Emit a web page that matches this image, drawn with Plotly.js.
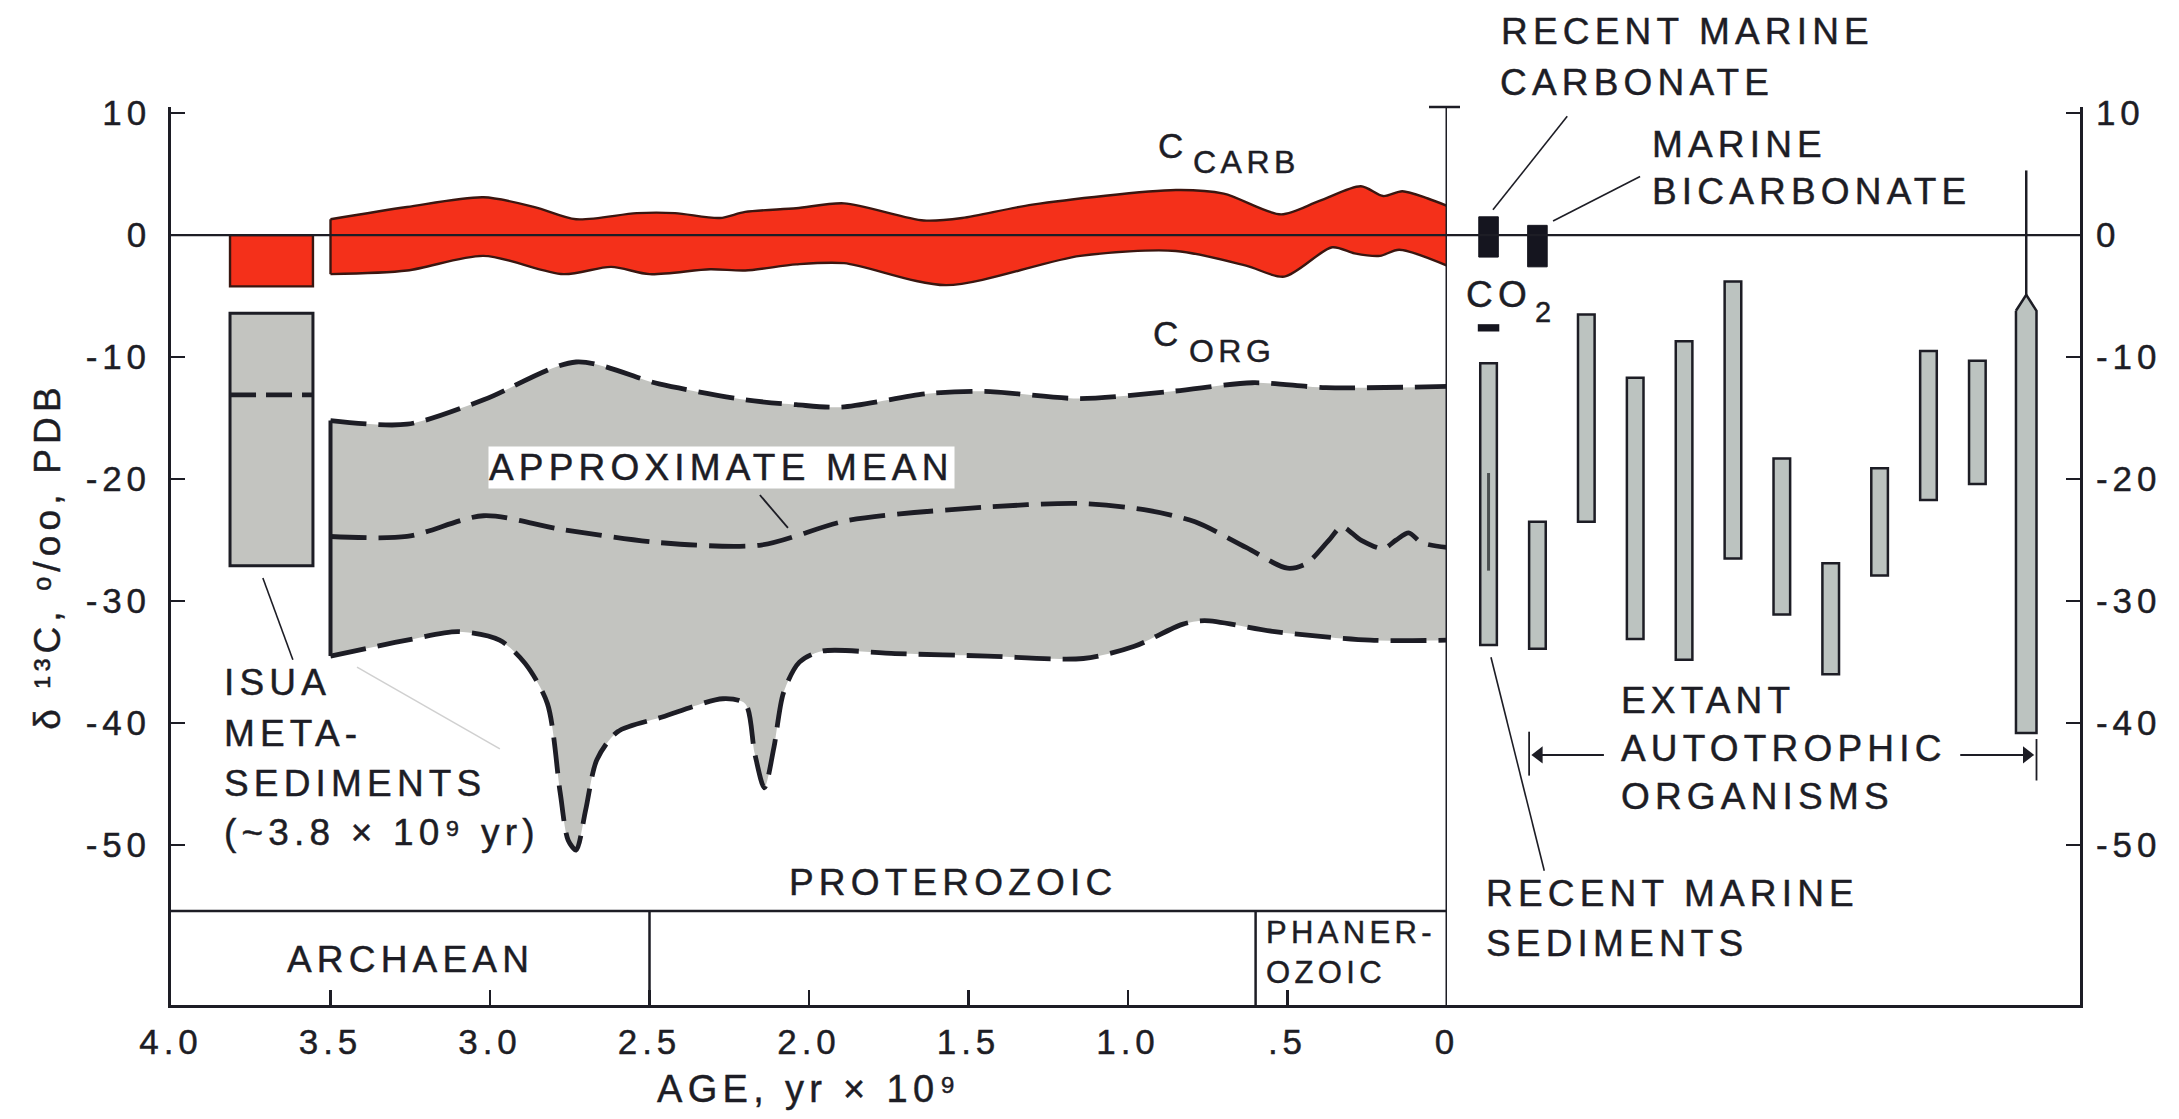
<!DOCTYPE html>
<html>
<head>
<meta charset="utf-8">
<script src="https://cdn.plot.ly/plotly-3.0.1.min.js"></script>
<style>
html,body{margin:0;padding:0;background:#ffffff;}
#chart{width:2179px;height:1119px;}
svg text{letter-spacing:0.14em;stroke:#1d1d25;stroke-width:0.45px;}
</style>
</head>
<body>
<div id="chart"></div>
<script>
// ---------------- DATA ----------------
// Age axis (10^9 yr) and delta13C axis (per mil, PDB)
const ageTicks = [4.0, 3.5, 3.0, 2.5, 2.0, 1.5, 1.0, 0.5, 0];
const ageTickText = ['4.0', '3.5', '3.0', '2.5', '2.0', '1.5', '1.0', '.5', '0'];
const deltaTicks = [10, 0, -10, -20, -30, -40, -50];
const deltaTickText = ['10', '0', '-10', '-20', '-30', '-40', '-50'];

// Carbonate carbon envelope (C_CARB)
const carbTopAge = [3.5, 3.26, 3.02, 2.86, 2.73, 2.54, 2.42, 2.28, 2.2, 2.04, 1.89, 1.64, 1.52, 1.30, 0.85, 0.70, 0.52, 0.40, 0.27, 0.20, 0.14, 0.06, 0.0];
const carbTop    = [1.3, 2.3, 3.1, 2.3, 1.3, 1.8, 1.8, 1.4, 1.9, 2.2, 2.6, 1.2, 1.4, 2.5, 3.7, 3.4, 1.7, 2.8, 4.0, 3.2, 3.6, 3.0, 2.4];
const carbBotAge = [3.5, 3.26, 3.02, 2.77, 2.62, 2.50, 2.31, 2.2, 2.04, 1.89, 1.57, 1.15, 0.85, 0.63, 0.51, 0.36, 0.29, 0.21, 0.15, 0.0];
const carbBot    = [-3.2, -2.9, -1.7, -3.2, -2.6, -3.2, -2.8, -2.9, -2.4, -2.3, -4.1, -1.7, -1.3, -2.5, -3.4, -1.0, -1.5, -1.7, -1.2, -2.5];

// Organic carbon envelope (C_ORG): upper limit, approximate mean, lower limit
const orgTopAge = [3.5, 3.26, 3.02, 2.73, 2.47, 2.2, 2.04, 1.9, 1.63, 1.45, 1.15, 0.86, 0.61, 0.38, 0.0];
const orgTop    = [-15.2, -15.5, -13.5, -10.4, -12.2, -13.5, -13.9, -14.1, -13.0, -12.8, -13.4, -12.8, -12.1, -12.5, -12.4];
const orgMeanAge = [3.5, 3.26, 3.02, 2.78, 2.47, 2.15, 1.88, 1.45, 1.15, 0.95, 0.79, 0.63, 0.5, 0.44, 0.37, 0.33, 0.27, 0.2, 0.16, 0.12, 0.08, 0.0];
const orgMean    = [-24.7, -24.7, -23.0, -24.1, -25.2, -25.4, -23.4, -22.3, -22.0, -22.5, -23.5, -25.6, -27.3, -26.9, -25.0, -23.9, -25.0, -25.7, -25.0, -24.4, -25.2, -25.6];
const orgBotAge = [3.5, 3.26, 3.10, 2.97, 2.89, 2.82, 2.78, 2.755, 2.73, 2.70, 2.665, 2.60, 2.46, 2.27, 2.20, 2.17, 2.14, 2.11, 2.08, 2.03, 1.96, 1.73, 1.44, 1.14, 0.98, 0.83, 0.76, 0.54, 0.24, 0.0];
const orgBot    = [-34.5, -33.2, -32.5, -33.2, -35.1, -38.4, -45.7, -49.6, -50.4, -47.1, -43.0, -40.7, -39.5, -38.0, -38.4, -42.5, -45.3, -42.0, -37.5, -35.0, -34.1, -34.3, -34.5, -34.7, -33.7, -31.9, -31.6, -32.5, -33.2, -33.2];

// Isua metasediments (~3.8 x 10^9 yr)
const isuaAge = [3.815, 3.555];
const isuaCarb = [0, -4.2];
const isuaOrg = [-6.4, -27.1];
const isuaOrgMean = -13.1;

// Geological eras
const eraNames = ['ARCHAEAN', 'PROTEROZOIC', 'PHANER-<br>OZOIC'];
const eraStart = [4.0, 2.5, 0.6];
const eraEnd = [2.5, 0.6, 0.0];

// Recent samples (right panel); slot = column number
const recentNames = ['Recent marine carbonate', 'Marine bicarbonate'];
const recentSlot = [1, 2];
const recentHigh = [1.5, 0.8];
const recentLow = [-1.8, -2.6];
const co2Slot = [1];
const co2High = [-7.3];
const co2Low = [-7.9];
const sedimentSlot = [1];
const sedimentHigh = [-10.5];
const sedimentLow = [-33.6];
const sedimentCoreHigh = [-19.5];
const sedimentCoreLow = [-27.5];
const autoSlot = [2, 3, 4, 5, 6, 7, 8, 9, 10, 11];
const autoHigh = [-23.5, -6.5, -11.7, -8.7, -3.8, -18.3, -26.9, -19.1, -9.5, -10.3];
const autoLow  = [-33.9, -23.5, -33.1, -34.8, -26.5, -31.1, -36.0, -27.9, -21.7, -20.4];
const wideSlot = 12;
const wideMax = 5.3;
const wideTip = -4.9;
const wideShoulder = -6.2;
const wideLow = -40.8;

// ---------------- STYLE / LAYOUT ----------------
const FONT = '"Liberation Sans", Arial, Helvetica, "DejaVu Sans", sans-serif';
const INK = '#1d1d25';
const RED = '#f4301a';
const RED_EDGE = '#3a1610';
const GRAY = '#c3c4c0';
const BAR_GRAY = '#bcc3c0';

const W = 2179, H = 1119, ML = 171, MR = 99, MT = 107, MB = 114;
const PW = W - ML - MR, PH = H - MT - MB;
const SPLIT = (1447 - ML) / PW;
const px = x => (x - ML) / PW;
const py = y => (H - MB - y) / PH;

const dashLine = {color: INK, width: 4.8, dash: '36px,12px', shape: 'spline', smoothing: 0.8};
const redLine = {color: RED_EDGE, width: 2.4, shape: 'spline', smoothing: 0.8};
const BW = 0.34, BW_BLACK = 0.40;

const traces = [];
// organic carbon band
traces.push({type: 'scatter', x: orgBotAge, y: orgBot, mode: 'lines', line: dashLine, hoverinfo: 'skip'});
traces.push({type: 'scatter', x: orgTopAge, y: orgTop, mode: 'lines', line: dashLine, fill: 'tonexty', fillcolor: GRAY, hoverinfo: 'skip'});
traces.push({type: 'scatter', x: orgMeanAge, y: orgMean, mode: 'lines', line: dashLine, hoverinfo: 'skip'});
traces.push({type: 'scatter', x: [orgTopAge[0], orgBotAge[0]], y: [orgTop[0], orgBot[0]], mode: 'lines', line: {color: INK, width: 4}, hoverinfo: 'skip'});
// carbonate band
traces.push({type: 'scatter', x: carbBotAge, y: carbBot, mode: 'lines', line: redLine, hoverinfo: 'skip'});
traces.push({type: 'scatter', x: carbTopAge, y: carbTop, mode: 'lines', line: redLine, fill: 'tonexty', fillcolor: RED, hoverinfo: 'skip'});
traces.push({type: 'scatter', x: [carbTopAge[0], carbBotAge[0]], y: [carbTop[0], carbBot[0]], mode: 'lines', line: {color: RED_EDGE, width: 2.4}, hoverinfo: 'skip'});
// Isua boxes
const isuaMid = (isuaAge[0] + isuaAge[1]) / 2, isuaW = isuaAge[0] - isuaAge[1];
traces.push({type: 'bar', x: [isuaMid], width: [isuaW], base: [isuaCarb[1]], y: [isuaCarb[0] - isuaCarb[1]], marker: {color: RED, line: {color: RED_EDGE, width: 2.4}}, hoverinfo: 'skip'});
traces.push({type: 'bar', x: [isuaMid], width: [isuaW], base: [isuaOrg[1]], y: [isuaOrg[0] - isuaOrg[1]], marker: {color: GRAY, line: {color: INK, width: 3}}, hoverinfo: 'skip'});
traces.push({type: 'scatter', x: isuaAge, y: [isuaOrgMean, isuaOrgMean], mode: 'lines', line: {color: INK, width: 4.8, dash: '26px,10px'}, hoverinfo: 'skip'});
// right panel
const R = {xaxis: 'x2', yaxis: 'y2', hoverinfo: 'skip'};
traces.push(Object.assign({type: 'bar', hovertext: recentNames, x: recentSlot, base: recentLow, y: recentHigh.map((h, i) => h - recentLow[i]), width: BW_BLACK, marker: {color: '#15151f', line: {color: '#15151f', width: 1}}}, R));
traces.push(Object.assign({type: 'bar', x: co2Slot, base: co2Low, y: co2High.map((h, i) => h - co2Low[i]), width: 0.44, marker: {color: '#15151f', line: {width: 0}}}, R));
traces.push(Object.assign({type: 'bar', x: sedimentSlot, base: sedimentLow, y: sedimentHigh.map((h, i) => h - sedimentLow[i]), width: BW, marker: {color: BAR_GRAY, line: {color: INK, width: 2.5}}}, R));
traces.push(Object.assign({type: 'scatter', mode: 'lines', x: [sedimentSlot[0], sedimentSlot[0]], y: [sedimentCoreHigh[0], sedimentCoreLow[0]], line: {color: '#4a4f50', width: 3}}, R));
traces.push(Object.assign({type: 'bar', x: autoSlot, base: autoLow, y: autoHigh.map((h, i) => h - autoLow[i]), width: BW, marker: {color: BAR_GRAY, line: {color: INK, width: 2.5}}}, R));
const hw = 0.21;
traces.push(Object.assign({type: 'scatter', mode: 'lines', fill: 'toself', fillcolor: BAR_GRAY,
  x: [wideSlot - hw, wideSlot, wideSlot + hw, wideSlot + hw, wideSlot - hw, wideSlot - hw],
  y: [wideShoulder, wideTip, wideShoulder, wideLow, wideLow, wideShoulder],
  line: {color: INK, width: 2.5}}, R));
traces.push(Object.assign({type: 'scatter', mode: 'lines', x: [wideSlot, wideSlot], y: [wideMax, wideTip], line: {color: INK, width: 2.5}}, R));
// arrow heads of the autotroph range
const arrowY = -42.6;
const rangeLeft = autoSlot[0] - BW / 2, rangeRight = wideSlot + hw;
traces.push(Object.assign({type: 'scatter', mode: 'markers', x: [rangeLeft + 0.2, rangeRight - 0.2], y: [arrowY, arrowY],
  marker: {symbol: ['triangle-left', 'triangle-right'], size: 15, color: INK, line: {width: 0}}}, R));

// shapes
const seg = (xref, yref, x0, y0, x1, y1, color, width) => ({type: 'line', xref, yref, x0, y0, x1, y1, line: {color: color || INK, width: width || 2}, layer: 'above'});
const eraTop = -55.4;
const shapes = [
  // zero line across both panels
  {type: 'line', xref: 'paper', yref: 'y', x0: 0, x1: 1, y0: 0, y1: 0, line: {color: INK, width: 2.2}, layer: 'above'},
  // divider at present day with cap
  {type: 'line', xref: 'x', yref: 'paper', x0: 0, x1: 0, y0: 0, y1: 1, line: {color: INK, width: 3}, layer: 'above'},
  {type: 'line', xref: 'paper', yref: 'paper', x0: px(1429), x1: px(1460), y0: 1, y1: 1, line: {color: INK, width: 2.5}, layer: 'above'},
  // era box
  {type: 'line', xref: 'x', yref: 'y', x0: eraStart[0], x1: eraEnd[2], y0: eraTop, y1: eraTop, line: {color: INK, width: 2.5}, layer: 'above'},
  {type: 'line', xref: 'x', yref: 'paper', x0: eraStart[1], x1: eraStart[1], y0: 0, y1: py(911), line: {color: INK, width: 2.5}, layer: 'above'},
  {type: 'line', xref: 'x', yref: 'paper', x0: eraStart[2], x1: eraStart[2], y0: 0, y1: py(911), line: {color: INK, width: 2.5}, layer: 'above'},
  // leader lines
  seg('x', 'y', 3.712, -28.1, 3.618, -34.8, INK, 1.6),
  seg('x', 'y', 3.417, -35.4, 2.969, -42.1, '#d0d0d0', 1.5),
  seg('x', 'y', 2.154, -21.3, 2.066, -24.0, INK, 1.8),
  seg('x2', 'y2', 2.61, 9.75, 1.09, 2.07, INK, 1.6),
  seg('x2', 'y2', 4.10, 4.8, 2.32, 1.16, INK, 1.6),
  seg('x2', 'y2', 1.05, -34.6, 2.14, -52.1, INK, 1.6),
  // brackets and shafts of the autotroph range arrows
  seg('x2', 'y2', rangeLeft, -40.7, rangeLeft, -44.3, INK, 1.8),
  seg('x2', 'y2', rangeRight, -41.3, rangeRight, -44.7, INK, 1.8),
  seg('x2', 'y2', rangeLeft + 0.2, arrowY, 3.36, arrowY, INK, 2),
  seg('x2', 'y2', 10.65, arrowY, rangeRight - 0.2, arrowY, INK, 2)
];

// annotations
const LBL = {family: FONT, size: 37, color: INK};
const lab = (text, x, y, extra) => Object.assign({text, xref: 'paper', yref: 'paper', x: px(x), y: py(y), xanchor: 'left', yanchor: 'middle', showarrow: false, font: LBL}, extra || {});
const annotations = [
  lab('RECENT MARINE', 1499, 32),
  lab('CARBONATE', 1498, 82),
  lab('MARINE', 1650, 144),
  lab('BICARBONATE', 1650, 191),
  lab('CO', 1464, 294),
  lab('2', 1533, 312, {font: {family: FONT, size: 29, color: INK}}),
  lab('C', 1156, 145, {font: {family: FONT, size: 35, color: INK}}),
  lab('CARB', 1191, 162, {font: {family: FONT, size: 32, color: INK}}),
  lab('C', 1151, 334, {font: {family: FONT, size: 35, color: INK}}),
  lab('ORG', 1187, 351, {font: {family: FONT, size: 32, color: INK}}),
  lab('APPROXIMATE MEAN', 488, 467, {bgcolor: '#ffffff', borderpad: 0}),
  lab('ISUA', 222, 683),
  lab('META-', 222, 733),
  lab('SEDIMENTS', 222, 783),
  lab('(~3.8 × 10⁹ yr)', 222, 832),
  lab('EXTANT', 1619, 700),
  lab('AUTOTROPHIC', 1619, 748),
  lab('ORGANISMS', 1619, 796),
  lab('RECENT MARINE', 1484, 893),
  lab('SEDIMENTS', 1484, 943),
  {text: eraNames[0], xref: 'x', yref: 'paper', x: (eraStart[0] + eraEnd[0]) / 2, y: py(959), xanchor: 'center', yanchor: 'middle', showarrow: false, font: LBL},
  {text: eraNames[1], xref: 'x', yref: 'paper', x: (eraStart[1] + eraEnd[1]) / 2, y: py(882), xanchor: 'center', yanchor: 'middle', showarrow: false, font: LBL},
  {text: eraNames[2], xref: 'x', yref: 'paper', x: eraStart[2], xshift: 8, y: py(952), xanchor: 'left', yanchor: 'middle', align: 'left', showarrow: false, font: {family: FONT, size: 31, color: INK}}
];

const axisCommon = {showgrid: false, zeroline: false, showline: true, linecolor: INK, linewidth: 3, tickcolor: INK, tickwidth: 2.5, fixedrange: true};
const layout = {
  width: W, height: H,
  margin: {l: ML, r: MR, t: MT, b: MB, pad: 0},
  paper_bgcolor: '#ffffff', plot_bgcolor: 'rgba(0,0,0,0)',
  showlegend: false, barmode: 'overlay', hovermode: false,
  font: {family: FONT, color: INK, size: 32},
  xaxis: Object.assign({}, axisCommon, {
    domain: [0, SPLIT], range: [4, 0], anchor: 'y',
    tickmode: 'array', tickvals: ageTicks, ticktext: ageTickText,
    ticks: 'inside', ticklen: 15, tickfont: {family: FONT, size: 35, color: INK}, ticklabelstandoff: 4,
    title: {text: 'AGE, yr × 10⁹', font: {family: FONT, size: 38, color: INK}, standoff: 16}
  }),
  yaxis: Object.assign({}, axisCommon, {
    domain: [0, 1], range: [-63.1, 10.5], anchor: 'x',
    tickmode: 'array', tickvals: deltaTicks, ticktext: deltaTickText,
    ticks: 'inside', ticklen: 14, tickfont: {family: FONT, size: 35, color: INK}, ticklabelstandoff: 10,
    title: {text: 'δ ¹³C, ᵒ/oo, PDB', font: {family: FONT, size: 37, color: INK}, standoff: 14}
  }),
  xaxis2: Object.assign({}, axisCommon, {
    domain: [SPLIT, 1], range: [0.15, 13.1], anchor: 'y2',
    ticks: '', showticklabels: false
  }),
  yaxis2: Object.assign({}, axisCommon, {
    domain: [0, 1], range: [-63.1, 10.5], anchor: 'x2', side: 'right',
    tickmode: 'array', tickvals: deltaTicks, ticktext: deltaTickText,
    ticks: 'inside', ticklen: 14, tickfont: {family: FONT, size: 35, color: INK}, ticklabelstandoff: 6
  }),
  shapes, annotations
};

Plotly.newPlot('chart', traces, layout, {displayModeBar: false, staticPlot: true});
</script>
</body>
</html>
